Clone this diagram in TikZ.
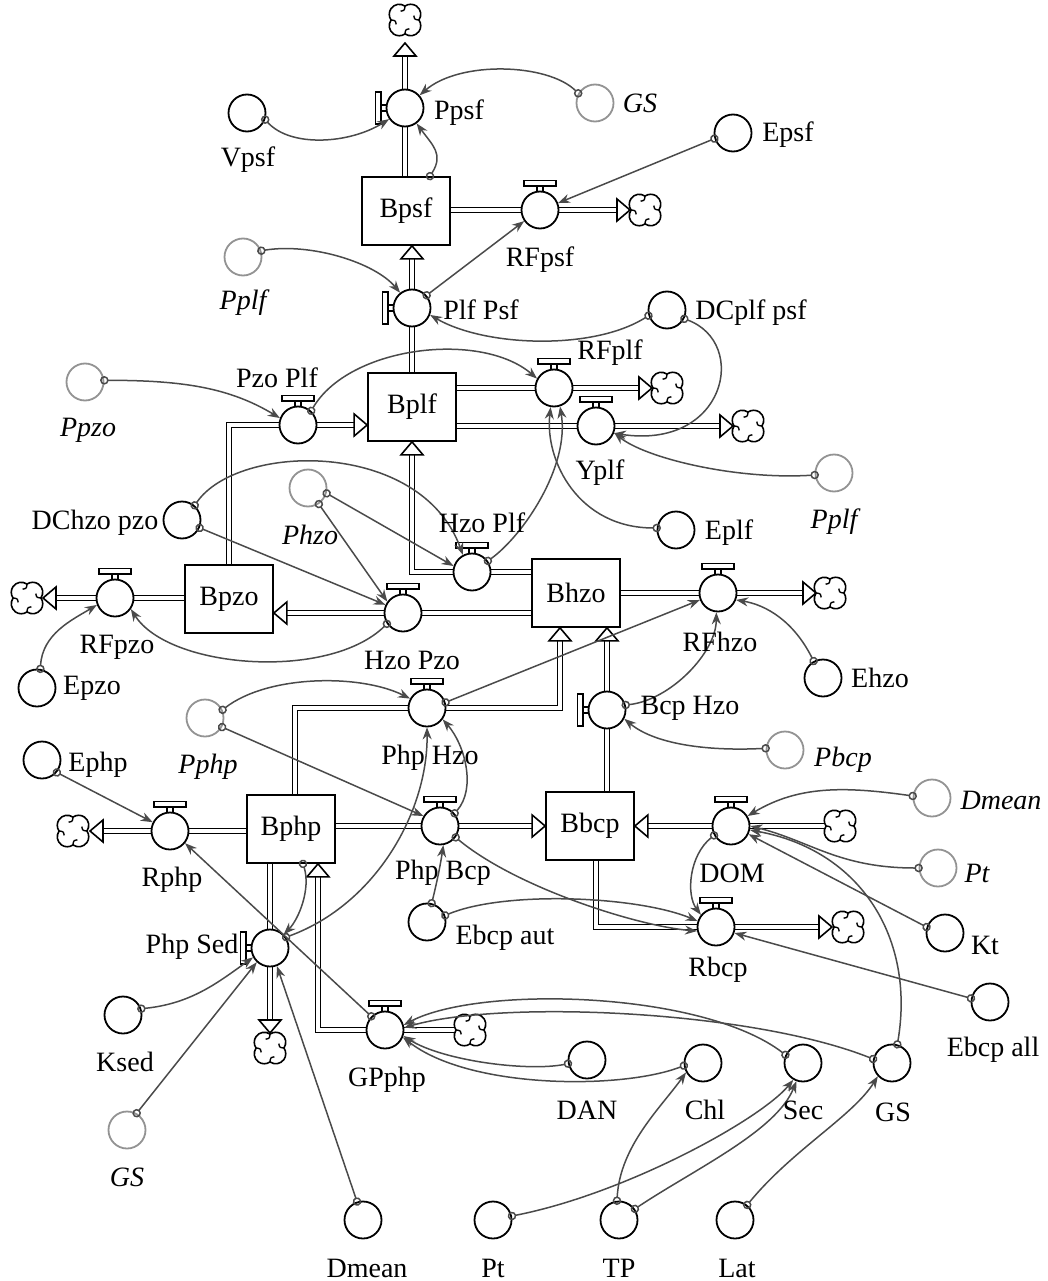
\documentclass[tikz,border=0pt]{standalone}
\usepackage{fontspec}
\setmainfont{Liberation Serif}
\usetikzlibrary{arrows.meta,calc,backgrounds}
\definecolor{cgray}{HTML}{4A4A4A}
\definecolor{agray}{HTML}{939393}
\tikzset{
  stockbox/.style={draw, line width=1.7pt, fill=white, minimum width=88pt, minimum height=68pt, inner sep=0pt},
  valve/.style={circle, draw, line width=1.8pt, fill=white, minimum size=37pt, inner sep=0pt},
  auxv/.style={circle, draw, line width=1.8pt, minimum size=37pt, inner sep=0pt},
  aliasv/.style={auxv, draw=agray},
  lbl/.style={inner sep=0pt, anchor=center},
  ilbl/.style={lbl, font=\fontsize{28}{32}\selectfont\itshape},
  pipe/.style={draw=black, line width=1.6pt, double=white, double distance=3.4pt},
  pipeend/.style={pipe, shorten >=12pt},
  conn/.style={draw=cgray, line width=1.5pt, arrows={Circle[open,length=8.5pt,width=8.5pt]-Stealth[length=12pt,width=9pt]}, shorten <=-4.25pt},
  handletop/.pic={
    \draw[line width=1.6pt, fill=white] (-16,-29.5) rectangle (16,-24);
    \draw[line width=1.5pt] (-2.8,-24) -- (-2.8,-18.5) (2.8,-24) -- (2.8,-18.5);
  },
  flowhead/.pic={
    \draw[line width=1.6pt, fill=white, line join=miter] (0,0) -- (-13,-11) -- (-13,11) -- cycle;
  },
  cloudpic/.pic={
    \begin{scope}[scale=1.25]
    \draw[line width=1.6pt, fill=white] (0,11.15) arc[start angle=125,end angle=-35,radius=8]
      arc[start angle=35,end angle=-125,radius=8]
      arc[start angle=-55,end angle=-215,radius=8]
      arc[start angle=-145,end angle=-305,radius=8] -- cycle;
    \foreach \r in {0,90,180,270}
      \draw[line width=1.4pt, rotate=\r] (0,11.15) .. controls (0,8) and (1.5,6.5) .. (3.5,7);
    \end{scope}
  }
}
\begin{document}
\begin{tikzpicture}[x=1pt,y=-1pt,font=\fontsize{28}{32}\selectfont]
\useasboundingbox (0,0) rectangle (1047,1281);
% stocks
\node[stockbox] (bpsf) at (406,211) {Bpsf};
\node[stockbox] (bplf) at (412,407) {Bplf};
\node[stockbox] (bpzo) at (229,599) {Bpzo};
\node[stockbox] (bhzo) at (576,593) {Bhzo};
\node[stockbox] (bphp) at (291,829) {Bphp};
\node[stockbox] (bbcp) at (590,826) {Bbcp};
% valves
\node[valve] (ppsf) at (405,108) {};
\node[valve] (rfpsf) at (540,210) {};
\node[valve] (plfpsf) at (412,308) {};
\node[valve] (pzoplf) at (298,425) {};
\node[valve] (rfplf) at (554,388) {};
\node[valve] (yplf) at (596,426) {};
\node[valve] (hzoplf) at (472,572) {};
\node[valve] (hzopzo) at (403,613) {};
\node[valve] (rfpzo) at (115,598) {};
\node[valve] (rfhzo) at (718,593) {};
\node[valve] (bcphzo) at (607,710) {};
\node[valve] (phphzo) at (427,708) {};
\node[valve] (rphp) at (170,831) {};
\node[valve] (phpbcp) at (440,826) {};
\node[valve] (dom) at (731,826) {};
\node[valve] (rbcp) at (716,927) {};
\node[valve] (phpsed) at (270,948) {};
\node[valve] (gpphp) at (385,1030) {};
\foreach \v in {rfpsf,pzoplf,rfplf,yplf,hzoplf,hzopzo,rfpzo,rfhzo,phphzo,rphp,phpbcp,dom,rbcp,gpphp}
  \pic at (\v.center) {handletop};
\foreach \v in {ppsf,plfpsf,bcphzo,phpsed}
  \pic[rotate=90] at (\v.center) {handletop};
% auxiliaries
\node[auxv] (vpsf) at (247,113) {};
\node[aliasv] (gs1) at (595,103) {};
\node[auxv] (epsf) at (733,133) {};
\node[aliasv] (pplf1) at (243,257) {};
\node[auxv] (dcplf) at (667,310) {};
\node[aliasv] (ppzo) at (85,382) {};
\node[aliasv] (pplf2) at (834,473) {};
\node[auxv] (eplf) at (676,530) {};
\node[auxv] (dchzo) at (182,520) {};
\node[aliasv] (phzo) at (308,488) {};
\node[auxv] (epzo) at (37,688) {};
\node[auxv] (ehzo) at (823,678) {};
\node[aliasv] (pphp) at (205,718) {};
\node[aliasv] (pbcp) at (785,750) {};
\node[auxv] (ephp) at (42,760) {};
\node[aliasv] (dmean1) at (932,798) {};
\node[aliasv] (pt1) at (938,868) {};
\node[auxv] (kt) at (945,933) {};
\node[auxv] (ebcpaut) at (427,922) {};
\node[auxv] (ebcpall) at (990,1002) {};
\node[auxv] (ksed) at (123,1015) {};
\node[aliasv] (gs2) at (127,1130) {};
\node[auxv] (dan) at (587,1060) {};
\node[auxv] (chl) at (703,1063) {};
\node[auxv] (sec) at (803,1063) {};
\node[auxv] (gs3) at (892,1063) {};
\node[auxv] (dmean2) at (363,1220) {};
\node[auxv] (pt2) at (493,1220) {};
\node[auxv] (tp) at (619,1220) {};
\node[auxv] (lat) at (735,1220) {};
% cloud positions
\coordinate (ctop) at (405,20);
\coordinate (crfpsf) at (645,210);
\coordinate (crfplf) at (667,388);
\coordinate (cyplf) at (748,426);
\coordinate (crfpzo) at (27,598);
\coordinate (crfhzo) at (830,593);
\coordinate (crphp) at (73,831);
\coordinate (cdom) at (840,826);
\coordinate (crbcp) at (848,927);
\coordinate (cphpsed) at (270,1048);
\coordinate (cgp) at (470,1030);
% flow arrow tips
\coordinate (atop) at (405,43);
\coordinate (abpsf) at (plfpsf.center |- bpsf.south);
\coordinate (arfpsf) at (630,210);
\coordinate (abplfl) at (bplf.west |- pzoplf.center);
\coordinate (abplfb) at (plfpsf.center |- bplf.south);
\coordinate (arfplf) at (652,388);
\coordinate (ayplf) at (733,426);
\coordinate (abpzo) at (bpzo.east |- hzopzo.center);
\coordinate (arfpzo) at (43,598);
\coordinate (abhzoa) at ($(bhzo.south)+(-16,0)$);
\coordinate (abhzob) at (bcphzo.center |- bhzo.south);
\coordinate (arfhzo) at (816,593);
\coordinate (arphp) at (90,831);
\coordinate (abbcpl) at (bbcp.west |- phpbcp.center);
\coordinate (abbcpr) at (bbcp.east |- dom.center);
\coordinate (arbcp) at (832,927);
\coordinate (aphpsed) at (270,1033);
\coordinate (abphp) at ($(bphp.south)+(27,0)$);
% pipes
\begin{scope}[on background layer]
\draw[pipeend] (ppsf.center |- bpsf.north) -- (atop);
\draw[pipeend] (bpsf.east |- rfpsf.center) -- (arfpsf);
\draw[pipeend] (plfpsf.center |- bplf.north) -- (abpsf);
\draw[pipeend] (bpzo.north) |- (pzoplf.center) -- (abplfl);
\draw[pipeend] (bplf.east |- rfplf.center) -- (arfplf);
\draw[pipeend] (bplf.east |- yplf.center) -- (ayplf);
\draw[pipeend] (bhzo.west |- hzoplf.center) -| (abplfb);
\draw[pipeend] (bhzo.west |- hzopzo.center) -- (abpzo);
\draw[pipeend] (bpzo.west |- rfpzo.center) -- (arfpzo);
\draw[pipeend] (bhzo.east |- rfhzo.center) -- (arfhzo);
\draw[pipeend] (bcphzo.center |- bbcp.north) -- (abhzob);
\draw[pipeend] ($(bphp.north)+(4,0)$) |- (phphzo.center) -| (abhzoa);
\draw[pipeend] (bphp.west |- rphp.center) -- (arphp);
\draw[pipeend] (bphp.east |- phpbcp.center) -- (abbcpl);
\draw[pipeend] (cdom) -- (abbcpr);
\draw[pipeend] ($(bbcp.south)+(6,0)$) |- (arbcp);
\draw[pipeend] (phpsed.center |- bphp.south) -- (aphpsed);
\draw[pipeend] (cgp) -| (abphp);
\end{scope}
% flow heads
\pic[rotate=90] at (atop) {flowhead};
\pic[rotate=90] at (abpsf) {flowhead};
\pic at (arfpsf) {flowhead};
\pic at (abplfl) {flowhead};
\pic[rotate=90] at (abplfb) {flowhead};
\pic at (arfplf) {flowhead};
\pic at (ayplf) {flowhead};
\pic[rotate=180] at (abpzo) {flowhead};
\pic[rotate=180] at (arfpzo) {flowhead};
\pic[rotate=90] at (abhzoa) {flowhead};
\pic[rotate=90] at (abhzob) {flowhead};
\pic at (arfhzo) {flowhead};
\pic[rotate=180] at (arphp) {flowhead};
\pic at (abbcpl) {flowhead};
\pic[rotate=180] at (abbcpr) {flowhead};
\pic at (arbcp) {flowhead};
\pic[rotate=-90] at (aphpsed) {flowhead};
\pic[rotate=90] at (abphp) {flowhead};
% clouds
\foreach \c in {ctop,crfpsf,crfplf,cyplf,crfpzo,crfhzo,crphp,cdom,crbcp,cphpsed,cgp}
  \pic at (\c) {cloudpic};
% connectors
\draw[conn] (vpsf.-20) .. controls +(25,28) and +(-40,25) .. (ppsf.215);
\draw[conn] (gs1.150) .. controls +(-30,-30) and +(40,-35) .. (ppsf.41);
\draw[conn] ($(bpsf.north)+(24,0)$) .. controls +(14,-22) and +(16,22) .. (ppsf.-53);
\draw[conn] (epsf.197) -- (rfpsf.21);
\draw[conn] (pplf1.19) .. controls +(50,-8) and +(-25,-30) .. (plfpsf.128);
\draw[conn] (plfpsf.41) -- (rfpsf.215);
\draw[conn] (dcplf.197) .. controls +(-55,35) and +(55,32) .. (plfpsf.-21);
\draw[conn] (dcplf.-27) .. controls +(65,24) and +(112,17) .. (yplf.-22);
\draw[conn] (ppzo.5) .. controls +(80,0) and +(-50,-30) .. (pzoplf.159);
\draw[conn] (pzoplf.47) .. controls +(38,-65) and +(-56,-48) .. (rfplf.151);
\draw[conn] (pplf2.186) .. controls +(-80,5) and +(30,25) .. (yplf.-20);
\draw[conn] (eplf.174) .. controls +(-78,0) and +(-6,54) .. (rfplf.-100);
\draw[conn] (hzoplf.35) .. controls +(35,-25) and +(10,60) .. (rfplf.-72);
\draw[conn] (dchzo.49) .. controls +(43,-63) and +(-42,-116) .. (hzoplf.118);
\draw[conn] (dchzo.-24) -- (hzopzo.155);
\draw[conn] (phzo.-16) -- (hzoplf.162);
\draw[conn] (phzo.-56) -- (hzopzo.144);
\draw[conn] (hzopzo.214) .. controls +(-58,57) and +(38,60) .. (rfpzo.-35);
\draw[conn] (epzo.80) .. controls +(2,-35) and +(-25,15) .. (rfpzo.201);
\draw[conn] (phphzo.17) -- (rfhzo.201);
\draw[conn] (ehzo.119) .. controls +(-20,-40) and +(30,5) .. (rfhzo.-21);
\draw[conn] (bcphzo.15) .. controls +(45,-5) and +(0,40) .. (rfhzo.-95);
\draw[conn] (pbcp.175) .. controls +(-60,3) and +(30,25) .. (bcphzo.-27);
\draw[conn] (pphp.25) .. controls +(45,-35) and +(-50,-25) .. (phphzo.151);
\draw[conn] (pphp.-28) -- (phpbcp.149);
\draw[conn] (phpbcp.41) .. controls +(22,-25) and +(22,25) .. (phphzo.-36);
\draw[conn] (phpsed.34) .. controls +(90,-33) and +(1,84) .. (phphzo.-90);
\draw[conn] (ephp.-40) -- (rphp.153);
\draw[conn] (gpphp.135) -- (rphp.-39);
\draw[conn] (ebcpaut.76) .. controls +(5,-20) and +(-3,20) .. (phpbcp.-80);
\draw[conn] (ebcpaut.20) .. controls +(60,-25) and +(-60,-25) .. (rbcp.162);
\draw[conn] (phpbcp.-36) .. controls +(60,50) and +(-60,-5) .. (rbcp.192);
\draw[conn] ($(bphp.south)+(12,0)$) .. controls +(8,25) and +(15,-15) .. (phpsed.45);
\draw[conn] (ksed.19) .. controls +(50,-5) and +(-35,25) .. (phpsed.209);
\draw[conn] (gs2.60) -- (phpsed.227);
\draw[conn] (dmean2.108) -- (phpsed.-69);
\draw[conn] (dan.191) .. controls +(-40,8) and +(40,25) .. (gpphp.-18);
\draw[conn] (chl.188) .. controls +(-62,24) and +(66,52) .. (gpphp.-22);
\draw[conn] (sec.155) .. controls +(-83,-64) and +(75,-40) .. (gpphp.15);
\draw[conn] (gs3.168) .. controls +(-123,-49) and +(96,-28) .. (gpphp.7);
\draw[conn] (pt2.12) .. controls +(113,-22) and +(-33,40) .. (sec.-120);
\draw[conn] (tp.96) .. controls +(3,-55) and +(-25,35) .. (chl.209);
\draw[conn] (tp.35) .. controls +(60,-40) and +(-20,50) .. (sec.-110);
\draw[conn] (lat.51) .. controls +(45,-55) and +(-25,40) .. (gs3.223);
\draw[conn] (gs3.74) .. controls +(18,-106) and +(111,20) .. (dom.-12);
\draw[conn] (dmean1.174) .. controls +(-70,-10) and +(50,-30) .. (dom.31);
\draw[conn] (pt1.180) .. controls +(-80,0) and +(60,15) .. (dom.0);
\draw[conn] (kt.162) -- (dom.-25);
\draw[conn] (dom.209) .. controls +(-25,20) and +(-15,-20) .. (rbcp.141);
\draw[conn] (ebcpall.169) -- (rbcp.-18);
% labels
\node[lbl] (l01) at (459,113) {Ppsf};
\node[lbl] (l02) at (248,160) {Vpsf};
\node[ilbl] (l03) at (640,103) {GS};
\node[lbl] (l04) at (788,135) {Epsf};
\node[lbl] (l05) at (540,260) {RFpsf};
\node[ilbl] (l06) at (243,303) {Pplf};
\node[lbl] (l07) at (481,310) {Plf Psf};
\node[lbl] (l08) at (751,313) {DCplf psf};
\node[lbl] (l09) at (610,353) {RFplf};
\node[lbl] (l10) at (277,378) {Pzo Plf};
\node[ilbl] (l11) at (88,430) {Ppzo};
\node[lbl] (l12) at (600,473) {Yplf};
\node[ilbl] (l13) at (834,522) {Pplf};
\node[lbl] (l14) at (729,533) {Eplf};
\node[lbl] (l15) at (95,523) {DChzo pzo};
\node[ilbl] (l16) at (310,535) {Phzo};
\node[lbl] (l17) at (482,523) {Hzo Plf};
\node[lbl] (l18) at (117,647) {RFpzo};
\node[lbl] (l19) at (412,660) {Hzo Pzo};
\node[lbl] (l20) at (92,688) {Epzo};
\node[lbl] (l21) at (720,642) {RFhzo};
\node[lbl] (l22) at (880,678) {Ehzo};
\node[lbl] (l23) at (690,708) {Bcp Hzo};
\node[ilbl] (l24) at (208,767) {Pphp};
\node[lbl] (l25) at (430,758) {Php Hzo};
\node[ilbl] (l26) at (843,760) {Pbcp};
\node[lbl] (l27) at (98,765) {Ephp};
\node[ilbl] (l28) at (1001,800) {Dmean};
\node[lbl] (l29) at (172,880) {Rphp};
\node[lbl] (l30) at (443,873) {Php Bcp};
\node[lbl] (l31) at (732,873) {DOM};
\node[ilbl] (l32) at (977,873) {Pt};
\node[lbl] (l33) at (985,945) {Kt};
\node[lbl] (l34) at (192,947) {Php Sed};
\node[lbl] (l35) at (505,938) {Ebcp aut};
\node[lbl] (l36) at (718,970) {Rbcp};
\node[lbl] (l37) at (993,1050) {Ebcp all};
\node[lbl] (l38) at (125,1062) {Ksed};
\node[lbl] (l39) at (387,1080) {GPphp};
\node[lbl] (l40) at (587,1110) {DAN};
\node[lbl] (l41) at (705,1110) {Chl};
\node[lbl] (l42) at (803,1110) {Sec};
\node[lbl] (l43) at (893,1112) {GS};
\node[ilbl] (l44) at (127,1177) {GS};
\node[lbl] (l45) at (367,1268) {Dmean};
\node[lbl] (l46) at (493,1268) {Pt};
\node[lbl] (l47) at (619,1268) {TP};
\node[lbl] (l48) at (737,1268) {Lat};
\end{tikzpicture}
\end{document}
